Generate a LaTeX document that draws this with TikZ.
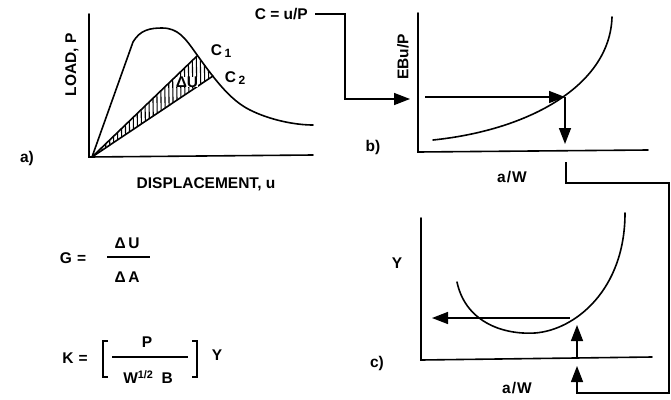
\documentclass[tikz,border=0pt]{standalone}
\usepackage{fontspec}
\setmainfont{Liberation Sans}
\usetikzlibrary{arrows.meta}
\tikzset{ax/.style={line width=1.6pt, line cap=round},
  crv/.style={line width=1.6pt, line cap=round},
  flow/.style={line width=1.5pt, -{Triangle[length=16pt, width=12pt]}},
  hatch/.style={line width=1.1pt},
  lbl/.style={font=\fontsize{15.5}{17}\selectfont\bfseries, inner sep=1pt}}

\begin{document}
\begin{tikzpicture}[x=1pt, y=-1pt]
  \useasboundingbox (0,0) rectangle (671,399);
  % panel a: load-displacement
  \coordinate (oa) at (92,157);
  \coordinate (C1) at (197,56);
  \coordinate (C2) at (213,76);
  \begin{scope}
    \clip (oa) -- (C1) -- (C2) -- cycle;
    \foreach \x in {96,100,...,216}{
      \draw[hatch] (\x,40) -- (\x+2,160);}
  \end{scope}
  \draw[ax] (89,14) -- (89,157) -- (313,155);
  \draw[crv] (oa) -- (133,42) .. controls (140,30) and (150,28) .. (162,28)
    .. controls (178,28) and (185,38) .. (195,52)
    .. controls (215,80) and (230,100) .. (250,110)
    .. controls (270,120) and (295,125) .. (313,125);
  \draw[crv] (oa) -- (C1);
  \draw[crv] (oa) -- (C2);
  \node[lbl, fill=white, inner sep=0pt] (du) at (187,82) {ΔU};
  \node[lbl] (c1) at (221,51) {C\,\raisebox{-0.2ex}{\fontsize{12}{13}\selectfont 1}};
  \node[lbl] (c2) at (235,78) {C\,\raisebox{-0.2ex}{\fontsize{12}{13}\selectfont 2}};
  \node[lbl, rotate=90] (load) at (72,65) {LOAD, P};
  \node[lbl] (disp) at (206,184) {DISPLACEMENT, u};
  \node[lbl] (pa) at (27,158) {a)};
  % panel b: compliance curve
  \coordinate (ob) at (418,152);
  \coordinate (bin) at (410,99);
  \coordinate (bhit) at (565,97);
  \coordinate (bdn) at (565,144);
  \draw[ax] (418,13) -- (ob) -- (648,150);
  \draw[crv] (433,140) .. controls (530,130) and (610,85) .. (612,17);
  \draw[flow] (425,97) -- (bhit);
  \draw[flow] (bhit) -- (bdn);
  \node[lbl, rotate=90] (ebu) at (403,57) {EBu/P};
  \node[lbl] (pb) at (373,147) {b)};
  \node[lbl] (aw1) at (512,177) {a\kern1pt/\kern1pt W};
  % panel c: geometry factor
  \coordinate (oc) at (421,360);
  \coordinate (cup) at (577,325);
  \coordinate (cout) at (432,318);
  \coordinate (cin) at (577,366);
  \draw[ax] (421,218) -- (oc) -- (652,357);
  \draw[crv] (457,282) .. controls (465,320) and (500,335) .. (535,333)
    .. controls (575,330) and (625,290) .. (625,213);
  \draw[flow] (577,357) -- (cup);
  \draw[flow] (570,318) -- (cout);
  \node[lbl] (yl) at (397,263) {Y};
  \node[lbl] (pc) at (377,363) {c)};
  \node[lbl] (aw2) at (517,388) {a\kern1pt/\kern1pt W};
  % connectors between panels
  \node[lbl, anchor=east] (cdef) at (309,14) {C = u/P};
  \draw[flow] (cdef.east) ++(6,0) -| (345,99) -- (bin);
  \draw[flow] (566,162) |- (669,183) |- (577,393) -- (cin);
  % formulas
  \node[lbl] (geq) at (73,258) {G\,\,=};
  \node[lbl] (gnum) at (127,243) {Δ\,U};
  \node[lbl] (gden) at (127,277) {Δ\,A};
  \draw[line width=1.6pt] (107,257) -- (150,257);
  \node[lbl] (keq) at (75,358) {K\,\,=};
  \node[lbl] (knum) at (147,342) {P};
  \node[lbl] (kden) at (148,377) {W\textsuperscript{1/2}\hspace{8pt}B};
  \draw[line width=1.6pt] (112,357) -- (188,357);
  \draw[line width=2.4pt] (108,341) -- (103,341) -- (103,377) -- (108,377);
  \draw[line width=2.4pt] (192,341) -- (197,341) -- (197,377) -- (192,377);
  \node[lbl] (ky) at (217,355) {Y};
\end{tikzpicture}
\end{document}
